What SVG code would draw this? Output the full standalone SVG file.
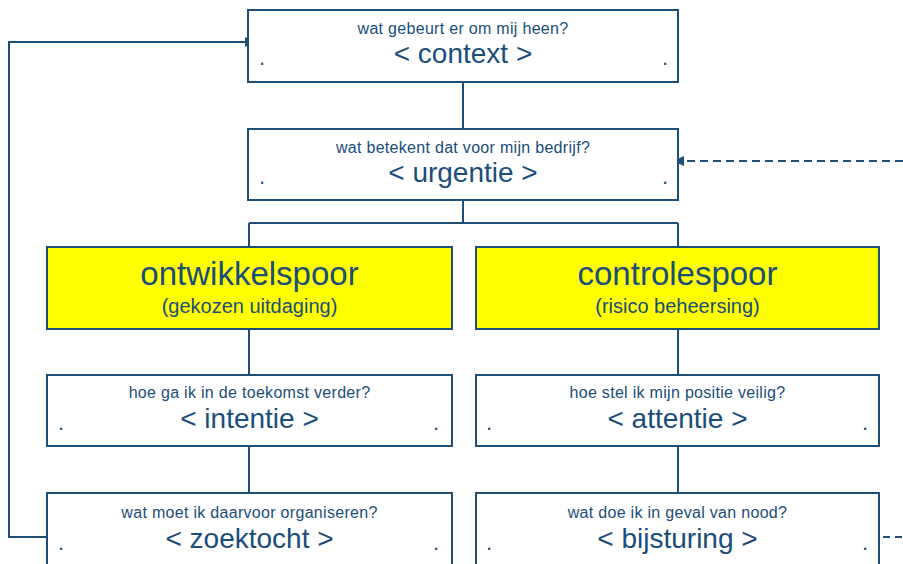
<svg xmlns="http://www.w3.org/2000/svg" width="903" height="564" viewBox="0 0 903 564">
<style>
.box{fill:#ffffff;stroke:#1D4F78;stroke-width:2}
.ybox{fill:#FFFF00;stroke:#1D4F78;stroke-width:2}
.ln{fill:none;stroke:#1D4F78;stroke-width:2}
.dash{fill:none;stroke:#1D4F78;stroke-width:2;stroke-dasharray:8 5}
.ah{fill:#1D4F78}
text{font-family:"Liberation Sans",Arial,sans-serif;fill:#1A4D7A;text-anchor:middle}
.q{font-size:16px;letter-spacing:0.3px}
.k{font-size:28px}
.t{font-size:33px}
.s{font-size:20px}
.d{font-size:22px}
</style>
<rect width="903" height="564" fill="#ffffff"/>
<g id="connectors">
<path class="ln" d="M463,82 V129"/>
<path class="ln" d="M463,200 V223 M249,223 H678 M249,223 V247 M678,223 V247"/>
<path class="ln" d="M249,329 V375 M678,329 V375"/>
<path class="ln" d="M249,446 V493 M678,446 V493"/>
<path class="ln" d="M46,537 H9 V42 H246"/>
<polygon class="ah" points="245,37 256,42 245,47"/>
<path class="dash" d="M903,161 H684"/>
<polygon class="ah" points="684,156 673,161 684,166"/>
<path class="dash" d="M883,537 H903" style="stroke-dasharray:7 5"/>
</g>
<g id="context">
<rect class="box" x="248" y="10" width="430" height="72"/>
<text class="q" x="463" y="34">wat gebeurt er om mij heen?</text>
<text class="k" x="463" y="63">&lt; context &gt;</text>
<text class="d" x="262" y="65">.</text>
<text class="d" x="665" y="65">.</text>
</g>
<g id="urgentie">
<rect class="box" x="248" y="129" width="430" height="71"/>
<text class="q" x="463" y="153">wat betekent dat voor mijn bedrijf?</text>
<text class="k" x="463" y="182">&lt; urgentie &gt;</text>
<text class="d" x="262" y="184">.</text>
<text class="d" x="665" y="184">.</text>
</g>
<g id="ontwikkelspoor">
<rect class="ybox" x="47" y="247" width="405" height="82"/>
<text class="t" x="249.5" y="285">ontwikkelspoor</text>
<text class="s" x="249.5" y="313">(gekozen uitdaging)</text>
</g>
<g id="controlespoor">
<rect class="ybox" x="476" y="247" width="403" height="82"/>
<text class="t" x="677.5" y="285">controlespoor</text>
<text class="s" x="677.5" y="313">(risico beheersing)</text>
</g>
<g id="intentie">
<rect class="box" x="47" y="375" width="405" height="71"/>
<text class="q" x="249.5" y="398">hoe ga ik in de toekomst verder?</text>
<text class="k" x="249.5" y="428">&lt; intentie &gt;</text>
<text class="d" x="61" y="430">.</text>
<text class="d" x="436" y="430">.</text>
</g>
<g id="attentie">
<rect class="box" x="476" y="375" width="403" height="71"/>
<text class="q" x="677.5" y="398">hoe stel ik mijn positie veilig?</text>
<text class="k" x="677.5" y="428">&lt; attentie &gt;</text>
<text class="d" x="489" y="430">.</text>
<text class="d" x="865" y="430">.</text>
</g>
<g id="zoektocht">
<rect class="box" x="47" y="493" width="405" height="73"/>
<text class="q" x="249.5" y="518">wat moet ik daarvoor organiseren?</text>
<text class="k" x="249.5" y="548">&lt; zoektocht &gt;</text>
<text class="d" x="61" y="550">.</text>
<text class="d" x="436" y="550">.</text>
</g>
<g id="bijsturing">
<rect class="box" x="476" y="493" width="403" height="73"/>
<text class="q" x="677.5" y="518">wat doe ik in geval van nood?</text>
<text class="k" x="677.5" y="548">&lt; bijsturing &gt;</text>
<text class="d" x="489" y="550">.</text>
<text class="d" x="865" y="550">.</text>
</g>
</svg>
